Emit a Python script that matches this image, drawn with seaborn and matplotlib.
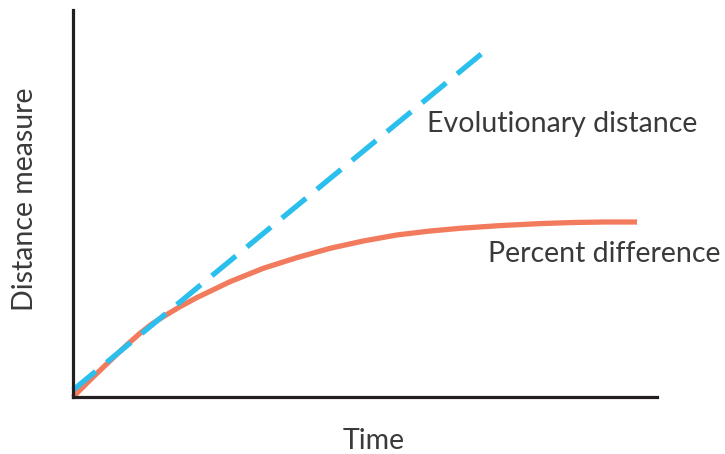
import numpy as np
import pandas as pd
import seaborn as sns
import matplotlib.pyplot as plt

# values (time 0-10, distance 0-10)
time_pct = [0, 0.068, 0.291, 0.514, 0.685, 0.925, 1.147, 1.353, 1.546, 1.832, 2.118,
            2.688, 3.259, 3.830, 4.401, 4.971, 5.543, 6.113, 6.627, 7.312, 7.997,
            8.562, 9.110, 9.658]
percent_diff = [0.0, 0.103, 0.439, 0.762, 1.008, 1.349, 1.646, 1.889, 2.075, 2.333, 2.566,
                2.979, 3.326, 3.599, 3.842, 4.031, 4.186, 4.289, 4.359, 4.429, 4.481,
                4.509, 4.522, 4.522]
# drawn from the top end down so the dash pattern starts at the top
time_evo = [6.99, 0]
evo_dist = [8.86, 0.18]

label_evo = "Evolutionary distance"
label_pct = "Percent difference"

sns.set_style("white")
plt.rcParams['font.family'] = ['Lato', 'DejaVu Sans']

fig = plt.figure(figsize=(7.25, 4.54), dpi=100)
ax = fig.add_axes([73/725, 1-397/454, 584/725, 387/454])

df_pct = pd.DataFrame({"t": time_pct, "d": percent_diff})
df_evo = pd.DataFrame({"t": time_evo, "d": evo_dist})

sns.lineplot(data=df_pct, x="t", y="d", ax=ax, color="#f37b5d", lw=3.8,
             solid_capstyle="butt", solid_joinstyle="round", clip_on=False)
sns.lineplot(data=df_evo, x="t", y="d", ax=ax, color="#2bbfee", lw=3.8,
             sort=False, clip_on=False)
ax.lines[-1].set_dashes((5.9, 2.7))
ax.lines[-1].set_dash_capstyle("butt")

ax.set_xlim(0, 10)
ax.set_ylim(0, 10)
ax.set_xticks([])
ax.set_yticks([])
ax.set_xlabel("")
ax.set_ylabel("")
for s in ["top", "right"]:
    ax.spines[s].set_visible(False)
for s in ["left", "bottom"]:
    ax.spines[s].set_linewidth(2.3)
    ax.spines[s].set_color("#231f20")

txt = "#3a3a3a"
fs = 20.5
ax.text(6.06, 6.85, label_evo, fontsize=fs, color=txt, va="baseline", ha="left")
ax.text(7.11, 3.49, label_pct, fontsize=fs, color=txt, va="baseline", ha="left")
fig.text(374/725, 1-449/454, "Time", fontsize=fs, color=txt, ha="center",
         va="baseline")
fig.text(38/725, 1-199/454, "Distance measure", fontsize=fs, color=txt,
         rotation=90, ha="right", va="center")

fig.savefig("out.png", dpi=100)
